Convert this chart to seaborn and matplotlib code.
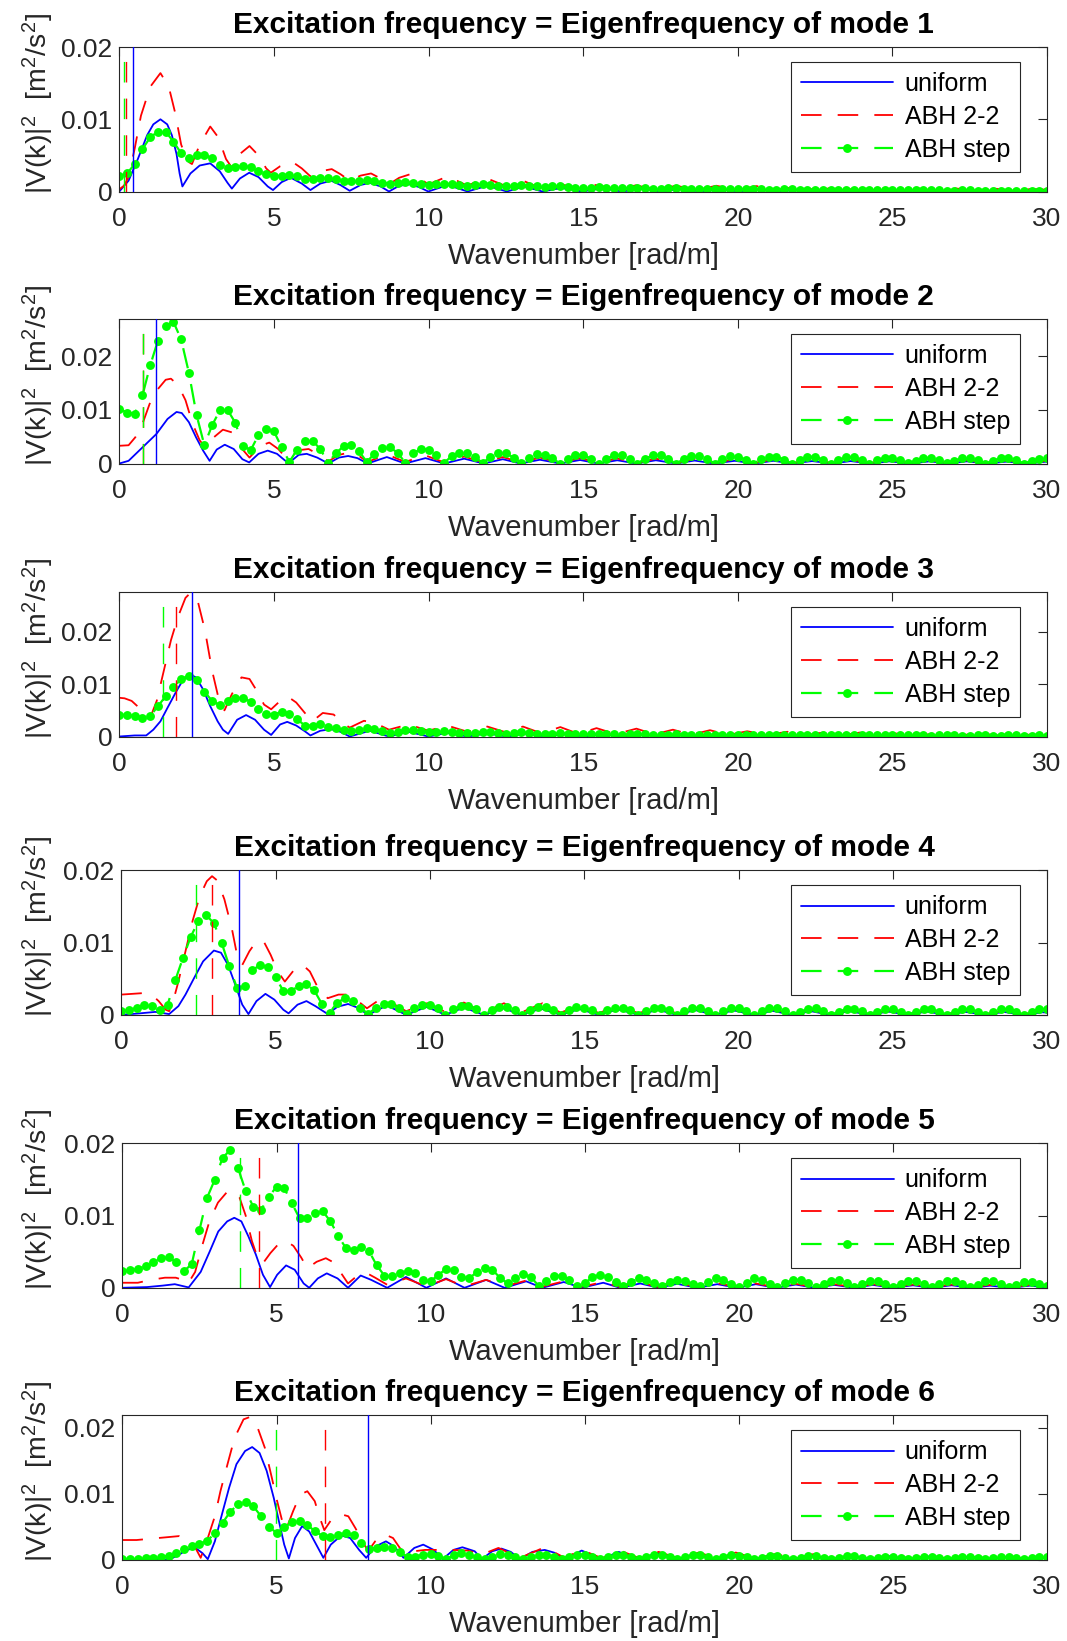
import numpy as np
import matplotlib
matplotlib.use("Agg")
import matplotlib.pyplot as plt
import seaborn as sns

sns.set_theme(style="white")
plt.rcParams["font.family"] = ["Liberation Sans", "DejaVu Sans"]
plt.rcParams["mathtext.fontset"] = "custom"
plt.rcParams["mathtext.rm"] = "Liberation Sans"
plt.rcParams["mathtext.it"] = "Liberation Sans:italic"
plt.rcParams["mathtext.bf"] = "Liberation Sans:bold"

SCALE = 1e-3          # all spectrum values below are in 10^-3 m^2/s^2
K_GRID = np.linspace(0, 30, 121)   # wavenumber samples of the ABH-step spectra

# ---------------- mode 1 ----------------
UNI_1 = [(0, 0), (0.3, 1.5), (0.6, 4.5), (0.9, 7.8), (1.1, 9.3), (1.33, 10.0), (1.55, 9.3),
         (1.7, 7.8), (1.85, 5.2), (1.95, 2.5), (2.04, 0.7), (2.3, 2.5), (2.6, 3.6), (2.94, 3.9),
         (3.25, 2.8), (3.5, 1.2), (3.64, 0.4), (3.9, 1.8), (4.2, 2.6), (4.5, 2.0), (4.8, 0.7),
         (4.97, 0.2), (5.25, 1.3), (5.55, 1.9), (5.9, 1.1), (6.18, 0.2), (6.5, 1.1), (6.85, 1.5),
         (7.15, 0.9), (7.45, 0.1), (7.8, 0.9), (8.1, 1.2), (8.45, 0.7), (8.72, 0.0), (9.05, 0.8),
         (9.4, 1.0), (9.7, 0.6), (9.99, 0.0), (10.62, 0.9), (11.26, 0.0), (11.9, 0.8), (12.53, 0.0),
         (13.1, 0.7), (13.68, 0.0), (14.3, 0.5), (14.97, 0), (15.6, 0.45), (16.26, 0), (16.9, 0.4),
         (17.5, 0), (18.15, 0.35), (18.8, 0), (19.4, 0.3), (20.05, 0), (20.7, 0.3), (21.3, 0),
         (21.95, 0.25), (22.6, 0), (23.2, 0.25), (23.85, 0), (24.5, 0.2), (25.1, 0), (25.75, 0.2),
         (26.4, 0), (27.0, 0.2), (27.65, 0), (28.3, 0.15), (28.9, 0), (29.5, 0.15), (30, 0.05)]
ABH22_1 = [(0, 0.3), (0.15, 0.8), (0.3, 2.0), (0.5, 6.0), (0.7, 10.5), (1.0, 14.5), (1.33, 16.4),
           (1.6, 14.5), (1.8, 11.0), (2.0, 6.5), (2.2, 4.2), (2.35, 3.8), (2.6, 6.5), (2.94, 9.0),
           (3.2, 7.5), (3.45, 4.5), (3.64, 3.3), (3.9, 5.2), (4.21, 6.3), (4.5, 5.0), (4.75, 3.2),
           (4.9, 2.6), (5.2, 3.5), (5.6, 4.1), (5.9, 3.2), (6.18, 2.1), (6.5, 2.8), (6.87, 3.1),
           (7.15, 2.4), (7.45, 1.5), (7.8, 2.2), (8.14, 2.5), (8.45, 1.8), (8.72, 1.0), (9.05, 1.9),
           (9.41, 2.4), (9.7, 1.8), (10.0, 1.0), (10.62, 2.1), (11.26, 0.8), (11.84, 1.9),
           (12.53, 0.7), (13.05, 1.5), (13.6, 0.5), (14.15, 1.2), (14.8, 0.35), (15.4, 0.9),
           (16.1, 0.3), (16.7, 0.85), (17.4, 0.25), (18.0, 0.8), (18.7, 0.2), (19.3, 0.8),
           (20.0, 0.2), (20.6, 0.75), (21.3, 0.2), (21.9, 0.7), (22.6, 0.15), (23.2, 0.65),
           (23.85, 0.15), (24.4, 0.6), (25.1, 0.1), (25.7, 0.5), (26.4, 0.1), (27.0, 0.45),
           (27.65, 0.1), (28.3, 0.4), (28.9, 0.1), (29.5, 0.35), (30, 0.25)]
STEP_1 = [2.1, 2.5, 3.8, 5.9, 7.5, 8.3, 8.3, 6.9,
          5.3, 4.7, 5.0, 5.1, 4.6, 3.7, 3.3, 3.4,
          3.5, 3.4, 2.9, 2.4, 2.1, 2.2, 2.3, 2.1,
          1.8, 1.7, 1.9, 1.9, 1.7, 1.5, 1.4, 1.5,
          1.6, 1.5, 1.2, 1.1, 1.2, 1.3, 1.2, 1.0,
          0.9, 1.0, 1.1, 1.0, 0.9, 0.8, 0.9, 1.0,
          0.9, 0.8, 0.7, 0.8, 0.9, 0.8, 0.7, 0.6,
          0.7, 0.7, 0.6, 0.55, 0.5, 0.55, 0.6, 0.55,
          0.5, 0.45, 0.5, 0.5, 0.45, 0.4, 0.4, 0.45,
          0.45, 0.4, 0.35, 0.35, 0.4, 0.4, 0.35, 0.3,
          0.3, 0.35, 0.35, 0.3, 0.25, 0.25, 0.3, 0.3,
          0.25, 0.2, 0.2, 0.25, 0.25, 0.2, 0.2, 0.2,
          0.2, 0.2, 0.15, 0.15, 0.2, 0.2, 0.15, 0.15,
          0.15, 0.15, 0.15, 0.1, 0.1, 0.15, 0.15, 0.1,
          0.1, 0.1, 0.1, 0.1, 0.1, 0.1, 0.1, 0.1,
          0.1]
EIG_1 = [0.43, 0.23, 0.15]     # uniform, ABH 2-2, ABH step

# ---------------- mode 2 ----------------
UNI_2 = [(0, 0), (0.3, 0.5), (0.75, 3.0), (1.2, 5.5), (1.56, 8.3), (1.85, 9.6), (2.02, 9.4),
         (2.25, 7.7), (2.48, 4.9), (2.71, 2.4), (2.92, 0.5), (3.15, 2.6), (3.41, 3.5), (3.7, 2.7),
         (3.98, 0.8), (4.2, 0.2), (4.5, 1.8), (4.8, 2.4), (5.1, 1.8), (5.35, 0.6), (5.48, 0.1),
         (5.8, 1.6), (6.06, 1.8), (6.4, 1.1), (6.76, 0.0), (7.1, 1.1), (7.4, 1.4), (7.7, 1.0),
         (8.03, 0.0), (8.65, 1.2), (9.24, 0.0), (9.9, 1.0), (10.51, 0.0), (11.15, 0.9), (11.78, 0.0),
         (12.4, 0.8), (12.97, 0), (13.6, 0.7), (14.26, 0), (14.9, 0.65), (15.49, 0), (16.1, 0.6),
         (16.72, 0), (17.35, 0.6), (18.01, 0), (18.6, 0.55), (19.24, 0), (19.9, 0.5), (20.53, 0),
         (21.15, 0.5), (21.76, 0), (22.4, 0.45), (23.05, 0), (23.65, 0.45), (24.28, 0), (24.9, 0.4),
         (25.57, 0), (26.2, 0.4), (26.8, 0), (27.4, 0.4), (28.04, 0), (28.7, 0.35), (29.33, 0),
         (30, 0.35)]
ABH22_2 = [(0, 3.3), (0.3, 3.4), (0.52, 4.9), (0.75, 7.4), (0.98, 11.1), (1.21, 13.6), (1.5, 15.6),
           (1.67, 15.8), (1.9, 14.6), (2.14, 11.8), (2.37, 7.4), (2.6, 4.3), (2.8, 2.9), (3.06, 4.9),
           (3.35, 6.3), (3.64, 5.8), (3.93, 3.0), (4.21, 1.1), (4.56, 3.3), (4.85, 3.9), (5.14, 2.7),
           (5.43, 0.8), (5.83, 2.5), (6.12, 2.7), (6.5, 1.5), (6.76, 0.4), (7.1, 1.6), (7.4, 2.0),
           (7.75, 1.4), (8.03, 0.3), (8.65, 1.7), (9.24, 0.3), (9.9, 1.5), (10.51, 0.2), (11.15, 1.3),
           (11.78, 0.2), (12.4, 1.2), (12.97, 0.2), (13.6, 1.1), (14.26, 0.15), (14.9, 1.0),
           (15.49, 0.15), (16.1, 0.95), (16.72, 0.1), (17.35, 0.9), (18.01, 0.1), (18.6, 0.85),
           (19.24, 0.1), (19.9, 0.8), (20.53, 0.1), (21.15, 0.75), (21.76, 0.1), (22.4, 0.7),
           (23.05, 0.1), (23.65, 0.7), (24.28, 0.1), (24.9, 0.65), (25.57, 0.1), (26.2, 0.6),
           (26.8, 0.1), (27.4, 0.6), (28.04, 0.1), (28.7, 0.55), (29.33, 0.1), (30, 0.5)]
STEP_2 = [10.2, 9.5, 9.3, 12.7, 18.3, 22.9, 25.6, 26.4,
          23.1, 16.9, 9.0, 3.4, 7.1, 9.9, 10.0, 7.6,
          3.3, 2.5, 5.3, 6.5, 6.0, 3.0, 0.3, 2.6,
          4.1, 4.2, 2.7, 0.1, 1.9, 3.2, 3.4, 2.3,
          0.3, 1.8, 2.9, 3.0, 2.0, 0.1, 1.9, 2.7,
          2.6, 1.5, 0.1, 1.4, 2.0, 2.0, 1.2, 0.1,
          1.2, 1.9, 1.9, 1.1, 0.1, 1.1, 1.7, 1.6,
          1.0, 0.0, 0.9, 1.6, 1.6, 0.9, 0.0, 0.9,
          1.5, 1.5, 0.8, 0.0, 0.9, 1.5, 1.5, 0.8,
          0.0, 0.8, 1.4, 1.4, 0.9, 0.0, 0.8, 1.4,
          1.3, 0.7, 0.0, 0.8, 1.3, 1.3, 0.7, 0.0,
          0.7, 1.2, 1.3, 0.7, 0.0, 0.6, 1.2, 1.2,
          0.7, 0.0, 0.6, 1.1, 1.1, 0.7, 0.1, 0.5,
          1.0, 1.1, 0.7, 0.1, 0.5, 1.0, 1.1, 0.6,
          0.0, 0.5, 1.0, 1.0, 0.6, 0.0, 0.5, 0.9,
          1.0]
EIG_2 = [1.18, 0.78, 0.78]

# ---------------- mode 3 ----------------
UNI_3 = [(0, 0), (0.5, 0.2), (0.87, 0.2), (1.1, 1.3), (1.33, 2.9), (1.56, 5.5), (1.85, 8.7),
         (2.08, 11.0), (2.31, 11.8), (2.48, 11.3), (2.71, 9.0), (2.94, 5.8), (3.18, 2.9),
         (3.35, 1.3), (3.52, 0.5), (3.81, 3.2), (4.1, 4.1), (4.39, 3.2), (4.68, 1.3), (4.91, 0.3),
         (5.2, 2.3), (5.43, 2.8), (5.72, 2.1), (6.0, 1.0), (6.18, 0.2), (6.5, 1.1), (6.85, 1.4),
         (7.15, 0.9), (7.45, 0.0), (8.1, 1.1), (8.72, 0.0), (9.35, 0.9), (10.0, 0.0), (10.6, 0.7),
         (11.26, 0.0), (11.9, 0.6), (12.53, 0), (13.15, 0.55), (13.8, 0), (14.4, 0.5), (15.05, 0),
         (15.7, 0.45), (16.3, 0), (16.95, 0.4), (17.6, 0), (18.2, 0.35), (18.85, 0), (19.5, 0.3),
         (20.1, 0), (20.75, 0.3), (21.4, 0), (22.0, 0.25), (22.65, 0), (23.3, 0.25), (23.9, 0),
         (24.55, 0.2), (25.2, 0), (25.8, 0.2), (26.45, 0), (27.1, 0.2), (27.7, 0), (28.35, 0.15),
         (29.0, 0), (29.6, 0.15), (30, 0.05)]
ABH22_3 = [(0, 7.4), (0.17, 7.3), (0.4, 6.8), (0.64, 5.5), (0.87, 4.2), (1.0, 3.6), (1.21, 6.8),
           (1.44, 12.6), (1.67, 18.4), (1.9, 22.9), (2.14, 26.5), (2.31, 27.5), (2.54, 25.8),
           (2.77, 20.3), (3.0, 12.6), (3.23, 6.8), (3.4, 5.0), (3.64, 8.1), (3.95, 11.3),
           (4.21, 11.0), (4.45, 8.7), (4.68, 6.1), (4.91, 5.2), (5.2, 6.8), (5.43, 7.7), (5.72, 6.5),
           (6.0, 4.5), (6.24, 2.9), (6.58, 4.5), (6.93, 4.2), (7.22, 2.6), (7.45, 1.7), (7.91, 3.0),
           (8.26, 2.6), (8.72, 1.3), (9.35, 2.3), (10.0, 1.1), (10.6, 2.1), (11.26, 0.9), (11.9, 1.9),
           (12.5, 0.8), (13.05, 1.9), (13.65, 0.6), (14.26, 1.8), (14.85, 0.5), (15.43, 1.6),
           (16.05, 0.45), (16.72, 1.5), (17.3, 0.4), (17.9, 1.3), (18.5, 0.35), (19.1, 1.2),
           (19.7, 0.3), (20.3, 1.0), (20.95, 0.3), (21.6, 0.9), (22.2, 0.25), (22.8, 0.8),
           (23.4, 0.25), (24.0, 0.8), (24.65, 0.2), (25.3, 0.7), (25.9, 0.2), (26.5, 0.7),
           (27.15, 0.2), (27.8, 0.6), (28.4, 0.2), (29.0, 0.6), (29.6, 0.2), (30, 0.4)]
STEP_3 = [4.2, 4.1, 3.9, 3.6, 3.9, 5.8, 7.7, 9.4,
          11.0, 11.6, 10.8, 8.6, 6.8, 6.0, 6.7, 7.3,
          7.4, 6.6, 5.3, 4.3, 4.2, 4.7, 4.3, 3.3,
          2.1, 2.1, 2.3, 1.9, 1.6, 1.3, 1.0, 1.2,
          1.6, 1.4, 1.1, 0.7, 0.9, 1.3, 1.2, 1.0,
          0.8, 0.9, 1.0, 0.9, 0.7, 0.6, 0.7, 0.9,
          0.8, 0.6, 0.5, 0.6, 0.8, 0.7, 0.55, 0.45,
          0.5, 0.6, 0.55, 0.45, 0.4, 0.45, 0.5, 0.45,
          0.4, 0.35, 0.4, 0.45, 0.4, 0.35, 0.3, 0.35,
          0.4, 0.35, 0.3, 0.3, 0.35, 0.35, 0.3, 0.25,
          0.3, 0.3, 0.3, 0.25, 0.25, 0.3, 0.3, 0.25,
          0.2, 0.25, 0.3, 0.25, 0.2, 0.2, 0.25, 0.25,
          0.2, 0.2, 0.25, 0.25, 0.2, 0.2, 0.2, 0.25,
          0.2, 0.15, 0.2, 0.2, 0.2, 0.15, 0.15, 0.2,
          0.2, 0.15, 0.15, 0.2, 0.2, 0.15, 0.15, 0.2,
          0.15]
EIG_3 = [2.34, 1.82, 1.41]

# ---------------- mode 4 ----------------
UNI_4 = [(0, 0), (0.6, 0.2), (1.1, 0.4), (1.55, 0.1), (1.85, 1.2), (2.08, 2.8), (2.36, 5.1),
         (2.65, 7.4), (3.0, 8.9), (3.23, 8.6), (3.46, 6.9), (3.69, 4.2), (3.92, 1.4), (4.12, 0.1),
         (4.38, 1.9), (4.67, 2.9), (4.96, 2.1), (5.25, 0.7), (5.42, 0.2), (5.71, 1.4), (6.0, 1.9),
         (6.29, 1.2), (6.69, 0.1), (7.0, 1.1), (7.35, 1.5), (7.65, 1.0), (8.0, 0.0), (8.6, 1.3),
         (9.23, 0.0), (9.9, 1.1), (10.5, 0.0), (11.1, 1.0), (11.75, 0.0), (12.4, 0.9), (12.95, 0),
         (13.6, 0.85), (14.24, 0), (14.85, 0.8), (15.47, 0), (16.1, 0.75), (16.76, 0), (17.4, 0.7),
         (17.99, 0), (18.6, 0.65), (19.22, 0), (19.85, 0.6), (20.5, 0), (21.1, 0.55), (21.73, 0),
         (22.35, 0.5), (22.96, 0), (23.6, 0.5), (24.25, 0), (24.85, 0.45), (25.48, 0), (26.1, 0.45),
         (26.71, 0), (27.35, 0.4), (28.0, 0), (28.6, 0.4), (29.23, 0), (29.85, 0.35), (30, 0.3)]
ABH22_4 = [(0, 2.8), (0.35, 2.9), (0.69, 3.0), (0.98, 2.8), (1.21, 1.9), (1.44, 0.7), (1.55, 0.5),
           (1.65, 1.4), (1.85, 4.6), (2.08, 8.8), (2.31, 13.0), (2.54, 16.4), (2.77, 18.5),
           (2.94, 19.2), (3.11, 18.6), (3.34, 16.0), (3.58, 12.0), (3.75, 8.3), (3.92, 6.9),
           (4.15, 8.8), (4.38, 10.2), (4.61, 10.2), (4.84, 8.3), (5.07, 6.0), (5.3, 4.6), (5.65, 6.5),
           (5.88, 6.9), (6.11, 6.0), (6.4, 3.5), (6.69, 2.3), (7.04, 2.8), (7.32, 2.8), (7.61, 2.1),
           (7.96, 0.9), (8.3, 1.9), (8.65, 1.9), (8.95, 1.2), (9.23, 0.5), (9.9, 1.6), (10.5, 0.4),
           (11.1, 1.7), (11.75, 0.3), (12.4, 1.6), (12.95, 0.3), (13.65, 1.6), (14.24, 0.3),
           (14.9, 1.4), (15.47, 0.25), (16.15, 1.3), (16.76, 0.2), (17.4, 1.2), (17.99, 0.2),
           (18.65, 1.0), (19.22, 0.2), (19.9, 0.85), (20.5, 0.15), (21.1, 0.75), (21.73, 0.15),
           (22.35, 0.7), (22.96, 0.1), (23.6, 0.65), (24.25, 0.1), (24.85, 0.6), (25.48, 0.1),
           (26.1, 0.6), (26.71, 0.1), (27.35, 0.55), (28.0, 0.1), (28.6, 0.55), (29.23, 0.1),
           (29.85, 0.5), (30, 0.45)]
STEP_4 = [0.5, 0.6, 1.0, 1.3, 1.2, 0.6, 1.4, 4.8,
          7.9, 10.8, 13.0, 13.8, 12.7, 10.0, 6.7, 3.7,
          4.0, 6.2, 6.9, 6.6, 5.2, 3.3, 3.3, 4.0,
          4.2, 3.4, 1.5, 0.3, 1.7, 2.3, 1.9, 1.0,
          0.1, 1.0, 1.5, 1.5, 0.9, 0.1, 0.9, 1.4,
          1.4, 0.9, 0.0, 0.8, 1.2, 1.2, 0.8, 0.0,
          0.7, 1.1, 1.1, 0.6, 0.0, 0.7, 1.1, 1.1,
          0.6, 0.0, 0.6, 1.1, 1.0, 0.6, 0.0, 0.6,
          1.0, 1.0, 0.6, 0.0, 0.5, 1.0, 1.0, 0.6,
          0.0, 0.5, 0.9, 0.9, 0.5, 0.0, 0.5, 0.9,
          0.9, 0.5, 0.0, 0.5, 0.9, 0.9, 0.5, 0.0,
          0.4, 0.8, 0.9, 0.5, 0.0, 0.4, 0.8, 0.8,
          0.5, 0.0, 0.4, 0.8, 0.8, 0.4, 0.0, 0.4,
          0.8, 0.8, 0.4, 0.0, 0.4, 0.8, 0.8, 0.4,
          0.0, 0.4, 0.8, 0.8, 0.4, 0.0, 0.4, 0.8,
          0.8]
EIG_4 = [3.83, 2.94, 2.43]

# ---------------- mode 5 ----------------
UNI_5 = [(0, 0), (0.8, 0.1), (1.3, 0.3), (1.7, 0.5), (2.15, 0.05), (2.54, 2.2), (2.83, 5.0),
         (3.11, 7.8), (3.4, 9.2), (3.63, 9.7), (3.86, 9.2), (4.09, 7.1), (4.33, 4.6), (4.56, 1.8),
         (4.79, 0.1), (5.02, 1.8), (5.31, 3.1), (5.59, 2.5), (5.88, 0.6), (6.06, 0.0), (6.34, 1.3),
         (6.63, 2.0), (6.98, 1.3), (7.32, 0.0), (7.73, 1.7), (8.07, 1.1), (8.59, 0.0), (9.2, 1.5),
         (9.86, 0.0), (10.5, 1.3), (11.1, 0.0), (11.8, 1.1), (12.4, 0.0), (13.1, 0.9), (13.62, 0.0),
         (14.32, 0.8), (14.9, 0.0), (15.6, 0.7), (16.15, 0.0), (16.8, 0.6), (17.4, 0.0), (18.0, 0.55),
         (18.65, 0.0), (19.3, 0.5), (19.95, 0.0), (20.55, 0.5), (21.2, 0.0), (21.85, 0.45),
         (22.45, 0.0), (23.1, 0.4), (23.75, 0.0), (24.35, 0.4), (25.0, 0.0), (25.65, 0.35),
         (26.25, 0.0), (26.9, 0.35), (27.55, 0.0), (28.15, 0.3), (28.8, 0.0), (29.45, 0.3), (30, 0.05)]
ABH22_5 = [(0, 0.7), (0.5, 0.7), (0.92, 1.1), (1.38, 1.4), (1.73, 1.4), (1.96, 1.1), (2.13, 0.6),
           (2.36, 2.2), (2.6, 6.0), (2.83, 9.3), (3.1, 11.8), (3.4, 13.3), (3.6, 13.4), (3.8, 12.5),
           (4.0, 10.0), (4.2, 6.5), (4.4, 4.0), (4.56, 3.4), (4.8, 4.8), (5.05, 6.0), (5.3, 6.5),
           (5.55, 5.8), (5.8, 4.2), (6.0, 2.7), (6.3, 3.6), (6.6, 4.1), (6.9, 3.4), (7.1, 2.0),
           (7.32, 0.6), (7.6, 1.6), (7.9, 2.1), (8.2, 1.4), (8.6, 0.4), (9.2, 1.3), (9.86, 0.2),
           (10.5, 1.2), (11.1, 0.2), (11.8, 1.1), (12.4, 0.2), (13.1, 1.0), (13.62, 0.15),
           (14.32, 0.9), (14.9, 0.15), (15.6, 0.8), (16.15, 0.1), (16.8, 0.75), (17.4, 0.1),
           (18.0, 0.7), (18.65, 0.1), (19.3, 0.65), (19.95, 0.1), (20.55, 0.6), (21.2, 0.1),
           (21.85, 0.55), (22.45, 0.1), (23.1, 0.5), (23.75, 0.1), (24.35, 0.5), (25.0, 0.1),
           (25.65, 0.45), (26.25, 0.1), (26.9, 0.45), (27.55, 0.1), (28.15, 0.4), (28.8, 0.1),
           (29.45, 0.4), (30, 0.2)]
STEP_5 = [2.3, 2.4, 2.6, 3.0, 3.6, 4.1, 4.2, 3.6,
          2.3, 3.3, 8.0, 12.5, 15.0, 18.0, 19.1, 16.6,
          13.4, 11.2, 10.8, 12.6, 14.0, 13.8, 11.7, 9.6,
          9.7, 10.4, 10.6, 9.2, 7.2, 5.5, 5.3, 5.6,
          5.1, 3.1, 1.7, 1.7, 2.1, 2.3, 2.0, 1.1,
          0.9, 1.8, 2.6, 2.4, 1.5, 1.3, 2.2, 2.7,
          2.5, 1.4, 0.6, 1.4, 1.9, 1.5, 0.3, 1.0,
          1.6, 1.7, 1.1, 0.3, 0.6, 1.5, 1.8, 1.5,
          0.8, 0.2, 0.8, 1.3, 1.1, 0.6, 0.2, 0.8,
          1.1, 1.0, 0.5, 0.2, 0.8, 1.3, 1.1, 0.5,
          0.1, 0.6, 1.3, 1.1, 0.5, 0.1, 0.6, 1.1,
          1.1, 0.6, 0.1, 0.5, 1.0, 1.1, 0.7, 0.1,
          0.5, 1.0, 1.0, 0.5, 0.1, 0.5, 1.0, 1.0,
          0.5, 0.1, 0.5, 0.9, 0.9, 0.5, 0.1, 0.4,
          0.9, 0.9, 0.5, 0.1, 0.4, 0.8, 0.8, 0.5,
          0.2]
EIG_5 = [5.71, 4.43, 3.83]

# ---------------- mode 6 ----------------
UNI_6 = [(0, 0), (1.5, 0.0), (1.85, 0.8), (2.08, 1.5), (2.37, 1.8), (2.6, 1.0), (2.77, 0.1),
         (3.0, 2.8), (3.23, 6.9), (3.46, 10.9), (3.7, 14.5), (3.98, 16.5), (4.21, 17.1),
         (4.45, 16.2), (4.68, 13.5), (4.91, 9.4), (5.08, 5.8), (5.25, 2.3), (5.4, 0.2), (5.6, 3.3),
         (5.83, 5.1), (6.06, 4.3), (6.29, 2.3), (6.52, 0.3), (6.76, 2.3), (7.1, 3.7), (7.39, 3.3),
         (7.68, 1.5), (7.91, 0.3), (8.2, 2.0), (8.55, 2.8), (8.83, 2.0), (9.12, 0.3), (9.47, 1.8),
         (9.76, 2.3), (10.1, 1.5), (10.39, 0.1), (10.74, 1.5), (11.03, 1.9), (11.43, 1.3),
         (11.66, 0.1), (12.0, 1.3), (12.3, 1.7), (12.6, 1.2), (12.9, 0.1), (13.3, 1.2), (13.7, 1.5),
         (14.0, 1.1), (14.35, 0.1), (14.9, 1.4), (15.55, 0.1), (16.1, 1.2), (16.75, 0.1),
         (17.35, 1.0), (18.0, 0.1), (18.6, 0.9), (19.2, 0.05), (19.85, 0.8), (20.5, 0.05),
         (21.1, 0.75), (21.75, 0.05), (22.35, 0.7), (23.0, 0.05), (23.65, 0.6), (24.3, 0.05),
         (24.9, 0.55), (25.5, 0.05), (26.15, 0.5), (26.8, 0.05), (27.4, 0.45), (28.0, 0.05),
         (28.65, 0.4), (29.3, 0.05), (30, 0.35)]
ABH22_6 = [(0, 3.0), (0.46, 3.0), (0.92, 3.2), (1.39, 3.4), (1.85, 3.6), (2.19, 3.0), (2.37, 1.8),
           (2.54, 0.3), (2.77, 3.3), (3.0, 6.6), (3.18, 10.4), (3.41, 14.5), (3.64, 18.5),
           (3.93, 21.3), (4.16, 21.7), (4.39, 20.0), (4.62, 17.0), (4.85, 12.4), (5.02, 8.9),
           (5.2, 5.6), (5.31, 4.6), (5.54, 7.4), (5.77, 9.9), (6.0, 10.4), (6.24, 8.9), (6.41, 6.3),
           (6.55, 4.5), (6.81, 6.3), (7.1, 6.9), (7.33, 6.6), (7.56, 4.8), (7.79, 2.8), (7.97, 1.3),
           (8.2, 2.8), (8.49, 3.9), (8.78, 3.3), (9.0, 1.8), (9.18, 0.8), (9.47, 1.3), (9.82, 1.5),
           (10.28, 1.5), (10.74, 1.5), (11.2, 1.4), (11.66, 0.8), (12.2, 1.8), (12.9, 0.3),
           (13.7, 1.9), (14.35, 0.3), (14.9, 1.5), (15.55, 0.25), (16.2, 1.3), (16.8, 0.2),
           (17.4, 1.2), (18.05, 0.2), (18.7, 1.1), (19.3, 0.2), (19.9, 1.1), (20.55, 0.15),
           (21.2, 0.9), (21.8, 0.15), (22.4, 0.85), (23.05, 0.1), (23.7, 0.75), (24.35, 0.1),
           (25.0, 0.75), (25.6, 0.1), (26.2, 0.7), (26.85, 0.1), (27.45, 0.6), (28.1, 0.1),
           (28.7, 0.55), (29.35, 0.1), (30, 0.5)]
STEP_6 = [0.1, 0.1, 0.1, 0.2, 0.3, 0.4, 0.6, 1.0,
          1.6, 2.1, 2.4, 2.9, 4.0, 5.6, 7.3, 8.4,
          8.8, 8.1, 6.6, 5.0, 4.1, 4.9, 5.7, 5.9,
          5.3, 4.3, 3.6, 3.4, 3.8, 4.1, 3.7, 2.5,
          1.6, 1.8, 2.0, 1.8, 1.2, 0.4, 0.5, 0.8,
          0.9, 0.6, 0.1, 0.7, 1.0, 0.8, 0.4, 0.1,
          0.5, 0.9, 0.8, 0.4, 0.1, 0.5, 0.8, 0.8,
          0.5, 0.1, 0.4, 0.8, 0.8, 0.5, 0.1, 0.4,
          0.7, 0.7, 0.4, 0.1, 0.4, 0.7, 0.7, 0.4,
          0.1, 0.4, 0.7, 0.7, 0.4, 0.1, 0.4, 0.7,
          0.6, 0.4, 0.1, 0.3, 0.6, 0.6, 0.3, 0.1,
          0.3, 0.6, 0.6, 0.3, 0.1, 0.3, 0.6, 0.6,
          0.3, 0.1, 0.3, 0.5, 0.5, 0.3, 0.1, 0.3,
          0.5, 0.5, 0.3, 0.1, 0.3, 0.5, 0.5, 0.3,
          0.1, 0.3, 0.5, 0.5, 0.3, 0.1, 0.3, 0.5,
          0.5]
EIG_6 = [7.98, 6.57, 4.98]

MODES = [1, 2, 3, 4, 5, 6]
UNIFORM = [UNI_1, UNI_2, UNI_3, UNI_4, UNI_5, UNI_6]
ABH22 = [ABH22_1, ABH22_2, ABH22_3, ABH22_4, ABH22_5, ABH22_6]
STEP = [STEP_1, STEP_2, STEP_3, STEP_4, STEP_5, STEP_6]
EIGEN_K = [EIG_1, EIG_2, EIG_3, EIG_4, EIG_5, EIG_6]
Y_MAX = [0.020, 0.0269, 0.0276, 0.020, 0.020, 0.0219]
Y_TICKS = [0, 0.01, 0.02]
Y_TICKLABELS = ["0", "0.01", "0.02"]
X_TICKS = [0, 5, 10, 15, 20, 25, 30]

# ---------------- styling ----------------
BLUE, RED, GREEN = "#0000ff", "#ff0000", "#00ff00"
INK = "#262626"
LW, LW_STEP = 1.3, 1.6
DASH = (0, (14.8 / LW, 11.6 / LW))            # dash / gap in points, same on every line
DASH_STEP = (0, (14.8 / LW_STEP, 11.6 / LW_STEP))
DASH_V = (0, (14.8, 11.6))                     # vertical markers use lw = 1
W, H = 1067, 1641
AX_LEFT = [119.3, 119.3, 119.3, 121.3, 122.4, 122.4]   # pixels
AX_TOP = [47.1, 319.1, 592.1, 870.4, 1143.4, 1415.4]   # pixels
AX_RIGHT, AX_H = 1047.1, 144.4
YLABEL_X = 56.0                                        # right edge of the y label, pixels
Y_LABEL = "|V(k)|$^2$  [m$^2$/s$^2$]"

fig = plt.figure(figsize=(W / 100, H / 100), dpi=100)

for i, mode in enumerate(MODES):
    left, top = AX_LEFT[i], AX_TOP[i]
    ax_w = AX_RIGHT - left
    ax = fig.add_axes([left / W, 1 - (top + AX_H) / H, ax_w / W, AX_H / H])

    ku, vu = map(np.array, zip(*UNIFORM[i]))
    ka, va = map(np.array, zip(*ABH22[i]))
    vs = np.array(STEP[i])
    assert len(vs) == len(K_GRID)

    sns.lineplot(x=ku, y=vu * SCALE, ax=ax, color=BLUE, linewidth=LW,
                 estimator=None, sort=False, label="uniform")
    sns.lineplot(x=ka, y=va * SCALE, ax=ax, color=RED, linewidth=LW, linestyle=DASH,
                 estimator=None, sort=False, label="ABH 2-2")
    sns.lineplot(x=K_GRID, y=vs * SCALE, ax=ax, color=GREEN, linewidth=LW_STEP,
                 linestyle=DASH_STEP, marker="o", markersize=6.4, markeredgecolor=GREEN,
                 markeredgewidth=0, markerfacecolor=GREEN, estimator=None, sort=False,
                 label="ABH step")

    # eigen-wavenumbers of the three beams
    k_uni, k_abh, k_step = EIGEN_K[i]
    ax.axvline(k_uni, color=BLUE, linewidth=1.0, zorder=3)
    ax.axvline(k_abh, color=RED, linewidth=1.0, linestyle=DASH_V, zorder=3)
    ax.axvline(k_step, color=GREEN, linewidth=1.0, linestyle=DASH_V, zorder=3)

    ax.set_xlim(0, 30)
    ax.set_ylim(0, Y_MAX[i])
    ax.set_xticks(X_TICKS)
    ax.set_xticklabels([str(t) for t in X_TICKS])
    ax.set_yticks(Y_TICKS)
    ax.set_yticklabels(Y_TICKLABELS)
    ax.tick_params(axis="both", direction="in", length=6.5, width=0.8, top=True, right=True,
                   labelsize=19, colors=INK)
    ax.tick_params(axis="x", pad=11)
    ax.tick_params(axis="y", pad=5)
    for sp in ax.spines.values():
        sp.set_color(INK)
        sp.set_linewidth(0.8)
        sp.set_visible(True)

    ax.set_title(f"Excitation frequency = Eigenfrequency of mode {mode}",
                 fontsize=21.5, fontweight="bold", color="black", pad=10.5)
    ax.set_xlabel("Wavenumber [rad/m]", fontsize=21, color=INK, labelpad=8)
    ax.set_ylabel(Y_LABEL, fontsize=20.5, color=INK)
    ax.yaxis.set_label_coords((YLABEL_X - left) / ax_w, 0.61)

    leg = ax.legend(loc="upper right", bbox_to_anchor=(1 - 27 / 928, 1 - 15 / 144),
                    borderaxespad=0, fontsize=18, handlelength=3.7, handletextpad=0.45,
                    labelspacing=0.35, borderpad=0.4, frameon=True, fancybox=False,
                    framealpha=1, edgecolor=INK, numpoints=1)
    leg.get_frame().set_linewidth(0.8)
    for txt in leg.get_texts():
        txt.set_color("black")

fig.savefig("out.png", dpi=100)
